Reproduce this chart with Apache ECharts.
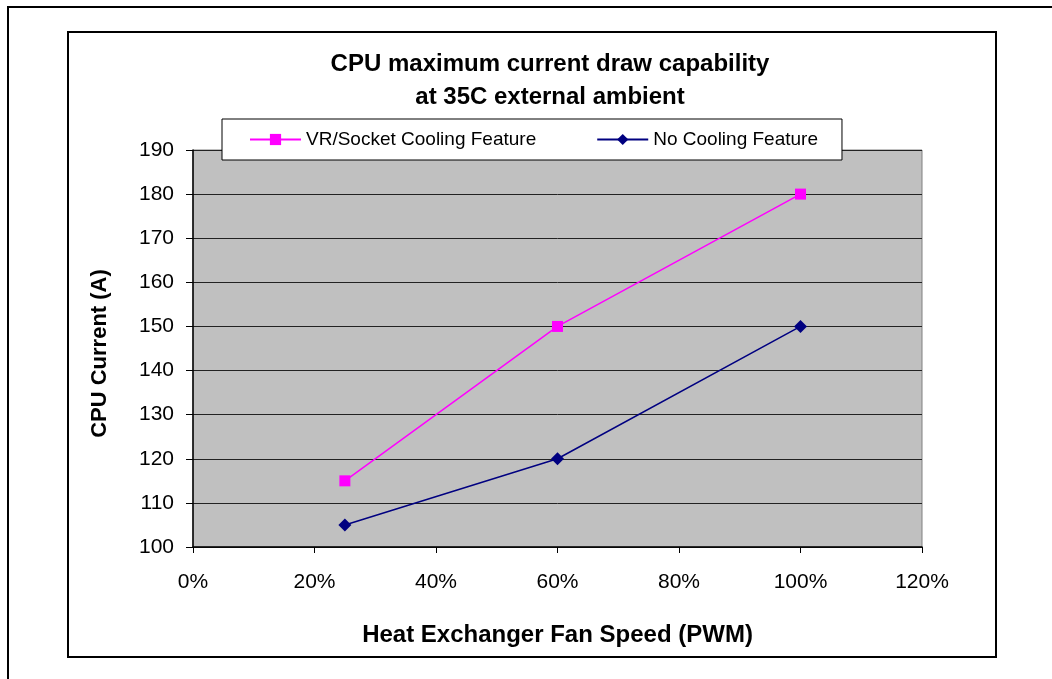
<!DOCTYPE html>
<html>
<head>
<meta charset="utf-8">
<script src="https://cdn.jsdelivr.net/npm/echarts@6/dist/echarts.min.js"></script>
<style>
html,body{margin:0;padding:0;background:#fff;}
#c{width:1052px;height:679px;}
</style>
</head>
<body>
<div id="c"></div>
<script>
const fanSpeed = [0.25, 0.60, 1.00];
const vrSocket = [115, 150, 180];
const noCooling = [105, 120, 150];
const seriesNames = ['VR/Socket Cooling Feature', 'No Cooling Feature'];
const titleLines = ['CPU maximum current draw capability', 'at 35C external ambient'];
const xAxisTitle = 'Heat Exchanger Fan Speed (PWM)';
const yAxisTitle = 'CPU Current (A)';

const font = '"Liberation Sans", Arial, sans-serif';
const chart = echarts.init(document.getElementById('c'), null, {renderer: 'canvas'});
chart.setOption({
  animation: false,
  backgroundColor: '#fff',
  graphic: [
    {type: 'polyline', shape: {points: [[8, 679], [8, 7], [1052, 7]]}, style: {stroke: '#000', lineWidth: 2, fill: null}, silent: true},
    {type: 'rect', shape: {x: 68, y: 32, width: 928, height: 625}, style: {stroke: '#000', lineWidth: 2, fill: null}, silent: true}
  ],
  title: {
    text: titleLines.join('\n'),
    left: 545, top: 43, textAlign: 'center',
    textStyle: {fontFamily: font, fontSize: 24, fontWeight: 'bold', color: '#000', lineHeight: 33}
  },
  legend: {
    left: 222, top: 119,
    padding: [11, 24, 11, 27],
    backgroundColor: '#fff', borderColor: '#000', borderWidth: 1,
    itemWidth: 51, itemHeight: 14, itemGap: 60,
    textStyle: {fontFamily: font, fontSize: 19, color: '#000'},
    data: seriesNames
  },
  grid: {
    left: 193, right: 130, top: 150, bottom: 132,
    show: true, backgroundColor: '#c0c0c0', borderColor: '#808080', borderWidth: 1
  },
  xAxis: {
    type: 'value', min: 0, max: 1.2, interval: 0.2,
    name: xAxisTitle, nameLocation: 'middle', nameGap: 76,
    nameTextStyle: {fontFamily: font, fontSize: 24, fontWeight: 'bold', color: '#000'},
    axisLine: {show: true, onZero: false, lineStyle: {color: '#000', width: 1.5}},
    axisTick: {show: true, length: 6, lineStyle: {color: '#000'}},
    axisLabel: {margin: 25, fontFamily: font, fontSize: 21, color: '#000', formatter: v => Math.round(v * 100) + '%'},
    splitLine: {show: false}
  },
  yAxis: {
    type: 'value', min: 100, max: 190, interval: 10,
    name: yAxisTitle, nameLocation: 'middle', nameGap: 82, nameRotate: 90,
    nameTextStyle: {fontFamily: font, fontSize: 22, fontWeight: 'bold', color: '#000', padding: [0, 10, 0, 0]},
    axisLine: {show: true, lineStyle: {color: '#000', width: 1.5}},
    axisTick: {show: true, length: 7, lineStyle: {color: '#000'}},
    axisLabel: {margin: 19, fontFamily: font, fontSize: 21, color: '#000'},
    splitLine: {show: true, lineStyle: {color: '#222', width: 1}}
  },
  series: [
    {
      name: seriesNames[0], type: 'line',
      data: fanSpeed.map((x, i) => [x, vrSocket[i]]),
      symbol: 'rect', symbolSize: 11,
      lineStyle: {color: '#ff00ff', width: 1.5},
      itemStyle: {color: '#ff00ff'}
    },
    {
      name: seriesNames[1], type: 'line',
      data: fanSpeed.map((x, i) => [x, noCooling[i]]),
      symbol: 'diamond', symbolSize: 13,
      lineStyle: {color: '#000080', width: 1.5},
      itemStyle: {color: '#000080'}
    }
  ]
});
</script>
</body>
</html>
